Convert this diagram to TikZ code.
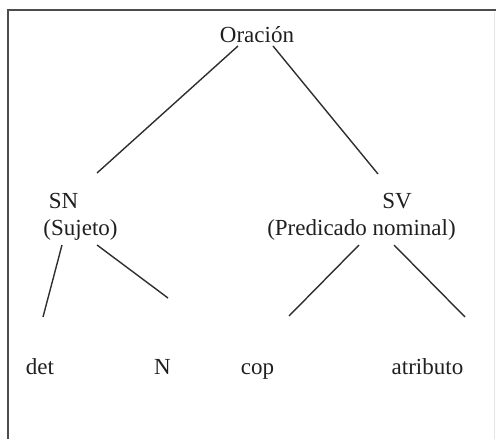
\documentclass[tikz,border=0pt]{standalone}
\usepackage{fontspec}
\setmainfont{Liberation Serif}
\begin{document}
\begin{tikzpicture}[x=1pt,y=-1pt,
  word/.style={inner sep=0pt,anchor=base,text=black!88,font=\fontsize{23}{27}\selectfont},
  branch/.style={draw=black!82,line width=1.4pt},
  frame/.style={draw=black!70,line width=1.8pt}]
\useasboundingbox (0,0) rectangle (496,439);
% frame around the tree
\draw[frame] (8,439) -- (8,10) -- (496,10);
\draw[draw=black!10,line width=1pt] (494,12) -- (494,439);

% labels
\node[word] (oracion) at (257,42) {Oración};
\node[word] (sn) at (63.5,208) {SN};
\node[word] (sujeto) at (80.5,235) {(Sujeto)};
\node[word] (sv) at (397,208) {SV};
\node[word] (pred) at (361.5,235) {(Predicado nominal)};
\node[word] (det) at (40,374) {det};
\node[word] (n) at (162.5,374) {N};
\node[word] (cop) at (257.5,374) {cop};
\node[word] (atrib) at (427.5,374) {atributo};

% branches
\draw[branch] ([shift={(-19,4)}]oracion.base) -- ([shift={(33.5,-35)}]sn.base);
\draw[branch] ([shift={(16,4)}]oracion.base) -- ([shift={(-19,-34)}]sv.base);
\draw[branch] ([shift={(-18.5,10)}]sujeto.base) -- ([shift={(3,-57)}]det.base);
\draw[branch] ([shift={(16.5,10)}]sujeto.base) -- ([shift={(5.5,-76)}]n.base);
\draw[branch] ([shift={(-2.5,10)}]pred.base) -- ([shift={(31.5,-58)}]cop.base);
\draw[branch] ([shift={(32.5,10)}]pred.base) -- ([shift={(37.5,-57)}]atrib.base);
\end{tikzpicture}
\end{document}
